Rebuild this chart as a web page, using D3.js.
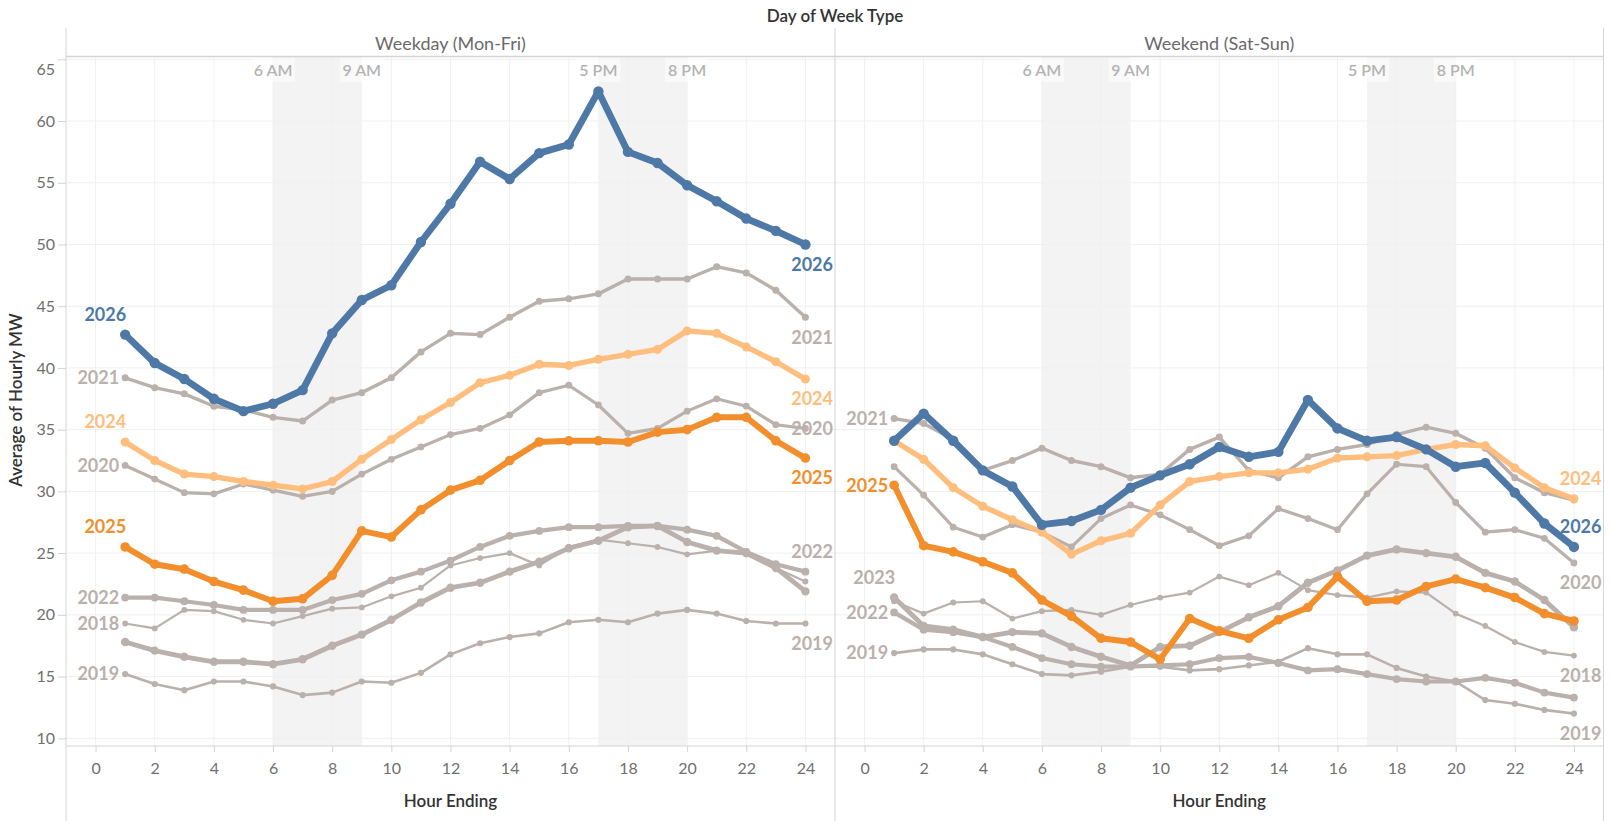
<!DOCTYPE html>
<html>
<head>
<meta charset="utf-8">
<script src="https://cdn.jsdelivr.net/npm/d3@7"></script>
<style>
  body { margin: 0; background: #fff; }
  svg { display: block; font-family: Lato, 'Open Sans', sans-serif; }
</style>
</head>
<body>
<svg id="chart" width="1613" height="821"></svg>
<script>
// Hour ending (x axis categories)
const hours = [1, 2, 3, 4, 5, 6, 7, 8, 9, 10, 11, 12, 13, 14, 15, 16, 17, 18, 19, 20, 21, 22, 23, 24]
const years = [2018, 2019, 2020, 2021, 2022, 2023, 2024, 2025, 2026]

// Weekday (Mon-Fri), average of hourly MW
const wd2018 = [19.3, 18.9, 20.4, 20.3, 19.6, 19.3, 19.9, 20.5, 20.6, 21.5, 22.2, 24.0, 24.6, 25.0, 24.0, 25.5, 26.1, 25.8, 25.5, 24.9, 25.2, 24.9, 23.8, 22.7]
const wd2019 = [15.2, 14.4, 13.9, 14.6, 14.6, 14.2, 13.5, 13.7, 14.6, 14.5, 15.3, 16.8, 17.7, 18.2, 18.5, 19.4, 19.6, 19.4, 20.1, 20.4, 20.1, 19.5, 19.3, 19.3]
const wd2020 = [32.1, 31.0, 29.9, 29.8, 30.6, 30.1, 29.6, 30.0, 31.4, 32.6, 33.6, 34.6, 35.1, 36.2, 38.0, 38.6, 37.0, 34.7, 35.1, 36.5, 37.5, 36.9, 35.4, 35.1]
const wd2021 = [39.2, 38.4, 37.9, 36.9, 36.6, 36.0, 35.7, 37.4, 38.0, 39.2, 41.3, 42.8, 42.7, 44.1, 45.4, 45.6, 46.0, 47.2, 47.2, 47.2, 48.2, 47.7, 46.3, 44.1]
const wd2022 = [21.4, 21.4, 21.1, 20.8, 20.4, 20.4, 20.4, 21.2, 21.7, 22.8, 23.5, 24.4, 25.5, 26.4, 26.8, 27.1, 27.1, 27.2, 27.2, 26.9, 26.4, 25.1, 24.1, 23.5]
const wd2023 = [17.8, 17.1, 16.6, 16.2, 16.2, 16.0, 16.4, 17.5, 18.4, 19.6, 21.0, 22.2, 22.6, 23.5, 24.3, 25.4, 26.0, 27.1, 27.2, 25.9, 25.2, 25.0, 23.8, 21.9]
const wd2024 = [34.0, 32.5, 31.4, 31.2, 30.8, 30.5, 30.2, 30.8, 32.6, 34.2, 35.8, 37.2, 38.8, 39.4, 40.3, 40.2, 40.7, 41.1, 41.5, 43.0, 42.8, 41.7, 40.5, 39.1]
const wd2025 = [25.5, 24.1, 23.7, 22.7, 22.0, 21.1, 21.3, 23.2, 26.8, 26.3, 28.5, 30.1, 30.9, 32.5, 34.0, 34.1, 34.1, 34.0, 34.8, 35.0, 36.0, 36.0, 34.1, 32.7]
const wd2026 = [42.7, 40.4, 39.1, 37.5, 36.5, 37.1, 38.2, 42.8, 45.5, 46.7, 50.2, 53.3, 56.7, 55.3, 57.4, 58.1, 62.4, 57.5, 56.6, 54.8, 53.5, 52.1, 51.1, 50.0]

// Weekend (Sat-Sun), average of hourly MW
const we2018 = [21.1, 20.1, 21.0, 21.1, 19.7, 20.3, 20.4, 20.0, 20.8, 21.4, 21.8, 23.1, 22.4, 23.4, 22.0, 21.6, 21.4, 21.9, 21.8, 20.1, 19.1, 17.8, 17.0, 16.7]
const we2019 = [16.9, 17.2, 17.2, 16.8, 16.0, 15.2, 15.1, 15.4, 15.8, 15.8, 15.5, 15.6, 15.9, 16.2, 17.3, 16.8, 16.8, 15.7, 15.0, 14.6, 13.1, 12.8, 12.3, 12.0]
const we2020 = [32.0, 29.7, 27.1, 26.3, 27.3, 26.7, 25.5, 27.8, 28.9, 28.1, 26.9, 25.6, 26.4, 28.6, 27.8, 26.9, 29.8, 32.2, 32.0, 29.1, 26.7, 26.9, 26.2, 24.2]
const we2021 = [35.9, 35.5, 34.2, 31.7, 32.5, 33.5, 32.5, 32.0, 31.1, 31.4, 33.4, 34.4, 31.7, 31.1, 32.8, 33.4, 33.8, 34.6, 35.2, 34.7, 33.5, 31.1, 29.9, 29.3]
const we2022 = [20.2, 18.8, 18.6, 18.2, 17.4, 16.5, 16.0, 15.8, 15.8, 15.9, 16.0, 16.5, 16.6, 16.1, 15.5, 15.6, 15.2, 14.8, 14.6, 14.6, 14.9, 14.5, 13.7, 13.3]
const we2023 = [21.4, 19.1, 18.8, 18.2, 18.6, 18.5, 17.4, 16.6, 15.9, 17.4, 17.5, 18.6, 19.8, 20.7, 22.6, 23.6, 24.8, 25.3, 25.0, 24.7, 23.4, 22.7, 21.2, 19.0]
const we2024 = [34.1, 32.6, 30.3, 28.8, 27.7, 26.7, 24.9, 26.0, 26.6, 28.9, 30.8, 31.2, 31.5, 31.5, 31.8, 32.7, 32.8, 32.9, 33.4, 33.8, 33.7, 31.9, 30.3, 29.4]
const we2025 = [30.5, 25.6, 25.1, 24.3, 23.4, 21.2, 19.9, 18.1, 17.8, 16.4, 19.7, 18.7, 18.1, 19.6, 20.6, 23.1, 21.1, 21.2, 22.3, 22.9, 22.2, 21.4, 20.1, 19.5]
const we2026 = [34.1, 36.3, 34.1, 31.7, 30.4, 27.3, 27.6, 28.5, 30.3, 31.3, 32.2, 33.6, 32.8, 33.2, 37.4, 35.1, 34.1, 34.4, 33.4, 32.0, 32.3, 29.9, 27.4, 25.5]

// Shaded periods and axis ticks
const periods = [[6, 9, '6 AM', '9 AM'], [17, 20, '5 PM', '8 PM']]
const xTickValues = [0, 2, 4, 6, 8, 10, 12, 14, 16, 18, 20, 22, 24]
const yTickValues = [10, 15, 20, 25, 30, 35, 40, 45, 50, 55, 60, 65]

// Styles
const colors = { 2024: '#ffbe7d', 2025: '#f28e2b', 2026: '#4e79a7' }
const gray = '#bab0ac'
const lineWidth = { 2018: 2.2, 2019: 2.6, 2020: 3.2, 2021: 3.4, 2022: 4.2, 2023: 4.8, 2024: 5.4, 2025: 6, 2026: 6.8 }

const weekdaySeries = { 2018: wd2018, 2019: wd2019, 2020: wd2020, 2021: wd2021, 2022: wd2022, 2023: wd2023, 2024: wd2024, 2025: wd2025, 2026: wd2026 }
const weekendSeries = { 2018: we2018, 2019: we2019, 2020: we2020, 2021: we2021, 2022: we2022, 2023: we2023, 2024: we2024, 2025: we2025, 2026: we2026 }

const plotTop = 57
const plotBottom = 746
const headerTop = 28
const gridColor = '#f0f0f0'
const borderColor = '#d4d4d4'

const panels = [
  {
    name: 'Weekday (Mon-Fri)',
    left: 66,
    right: 835,
    series: weekdaySeries,
    startLabels: { 2026: 'above', 2021: 'left', 2024: 'above', 2020: 'left', 2025: 'above', 2022: 'left', 2018: 'left', 2019: 'left' },
    endLabels: { 2026: 'below', 2021: 'below', 2024: 'below', 2020: 'middle', 2025: 'below', 2022: 'above', 2019: 'below' }
  },
  {
    name: 'Weekend (Sat-Sun)',
    left: 835,
    right: 1603.5,
    series: weekendSeries,
    startLabels: { 2021: 'left', 2025: 'left', 2023: 'above', 2022: 'left', 2019: 'left' },
    endLabels: { 2024: 'above', 2026: 'above', 2020: 'below', 2018: 'below', 2019: 'below' }
  }
]

const svg = d3.select('#chart')
const y = d3.scaleLinear().domain([10, 65]).range([738.3, 59.3])

/**
 * Returns the colour of a year's line.
 *
 * @param {number} year The year
 * @returns {string} The colour
 */
function colorOf (year) {
  return colors[year] || gray
}

/**
 * Draws one facet of the chart : bands, grid, axis, lines and labels.
 *
 * @param {object} panel The panel description
 */
function drawPanel (panel) {
  const x = d3.scaleLinear().domain([-1, 25]).range([panel.left, panel.right])
  const g = svg.append('g').attr('class', 'panel')

  // shaded hours
  periods.forEach(p => {
    g.append('rect')
      .attr('x', x(p[0]))
      .attr('y', plotTop)
      .attr('width', x(p[1]) - x(p[0]))
      .attr('height', plotBottom - plotTop)
      .attr('fill', '#f3f3f3')
  })

  // grid
  g.selectAll('.hgrid')
    .data(yTickValues)
    .join('line')
    .attr('class', 'hgrid')
    .attr('x1', panel.left)
    .attr('x2', panel.right)
    .attr('y1', d => y(d))
    .attr('y2', d => y(d))
    .attr('stroke', gridColor)
  g.selectAll('.vgrid')
    .data(xTickValues)
    .join('line')
    .attr('class', 'vgrid')
    .attr('x1', d => x(d))
    .attr('x2', d => x(d))
    .attr('y1', plotTop)
    .attr('y2', plotBottom)
    .attr('stroke', gridColor)

  // period labels
  periods.forEach(p => {
    [[p[0], p[2]], [p[1], p[3]]].forEach(([h, txt]) => {
      g.append('rect')
        .attr('x', x(h) - 22)
        .attr('y', plotTop + 1)
        .attr('width', 44)
        .attr('height', 24)
        .attr('fill', '#fff')
        .attr('opacity', 0.5)
      g.append('text')
        .attr('x', x(h))
        .attr('y', 70)
        .attr('dy', '0.35em')
        .attr('text-anchor', 'middle')
        .attr('font-size', 16)
        .attr('font-weight', 600)
        .attr('fill', '#b3b3b3')
        .text(txt)
    })
  })

  // x axis
  const xAxis = g.append('g')
    .attr('transform', 'translate(0,' + plotBottom + ')')
    .call(d3.axisBottom(x).tickValues(xTickValues).tickSize(6).tickPadding(11))
  xAxis.select('.domain').remove()
  xAxis.selectAll('line').attr('stroke', borderColor)
  xAxis.selectAll('text')
    .attr('font-family', 'Lato, sans-serif')
    .attr('font-size', 16)
    .attr('fill', '#6f6f6f')

  g.append('text')
    .attr('x', (panel.left + panel.right) / 2)
    .attr('y', 801)
    .attr('dy', '0.35em')
    .attr('text-anchor', 'middle')
    .attr('font-size', 17)
    .attr('font-weight', 600)
    .attr('fill', '#333')
    .text('Hour Ending')

  // header
  g.append('text')
    .attr('x', (panel.left + panel.right) / 2)
    .attr('y', 44)
    .attr('dy', '0.35em')
    .attr('text-anchor', 'middle')
    .attr('font-size', 18)
    .attr('fill', '#6a6a6a')
    .text(panel.name)

  // lines and markers
  const line = d3.line()
    .x((d, i) => x(hours[i]))
    .y(d => y(d))

  years.forEach(year => {
    const values = panel.series[year]
    const w = lineWidth[year]
    const yg = g.append('g').attr('class', 'year-' + year)
    yg.append('path')
      .datum(values)
      .attr('d', line)
      .attr('fill', 'none')
      .attr('stroke', colorOf(year))
      .attr('stroke-width', w)
      .attr('stroke-linejoin', 'round')
    yg.selectAll('circle')
      .data(values)
      .join('circle')
      .attr('cx', (d, i) => x(hours[i]))
      .attr('cy', d => y(d))
      .attr('r', 1.8 + w * 0.5)
      .attr('fill', colorOf(year))
  })

  // start labels
  Object.keys(panel.startLabels).forEach(key => {
    const year = +key
    const v = panel.series[year][0]
    const spot = panel.startLabels[key]
    g.append('text')
      .attr('x', spot === 'left' ? x(hours[0]) - 6 : x(hours[0]) + 1)
      .attr('y', spot === 'left' ? y(v) : y(v) - 20)
      .attr('dy', '0.35em')
      .attr('text-anchor', 'end')
      .attr('font-size', 18)
      .attr('font-weight', 700)
      .attr('fill', colorOf(year))
      .text(year)
  })

  // end labels
  Object.keys(panel.endLabels).forEach(key => {
    const year = +key
    const v = panel.series[year][hours.length - 1]
    const spot = panel.endLabels[key]
    const shift = spot === 'below' ? 20 : spot === 'above' ? -20 : 0
    g.append('text')
      .attr('x', panel.right - 2)
      .attr('y', y(v) + shift)
      .attr('dy', '0.35em')
      .attr('text-anchor', 'end')
      .attr('font-size', 18)
      .attr('font-weight', 700)
      .attr('fill', colorOf(year))
      .text(year)
  })
}

panels.forEach(drawPanel)

// y axis on the first panel
const yAxis = svg.append('g')
  .attr('transform', 'translate(' + panels[0].left + ',0)')
  .call(d3.axisLeft(y).tickValues(yTickValues).tickSize(8).tickPadding(3))
yAxis.select('.domain').remove()
yAxis.selectAll('line').attr('stroke', borderColor)
yAxis.selectAll('text')
  .attr('font-family', 'Lato, sans-serif')
  .attr('font-size', 16)
  .attr('fill', '#6f6f6f')
// the top label is pushed inside like the original
yAxis.selectAll('.tick').filter(d => d === 65).select('text').attr('y', 10)

// frame lines
const frame = svg.append('g').attr('stroke', borderColor).attr('fill', 'none')
frame.append('line').attr('x1', 66).attr('x2', 1603.5).attr('y1', 56.5).attr('y2', 56.5).attr('stroke-width', 1.5)
frame.append('line').attr('x1', 66).attr('x2', 1603.5).attr('y1', plotBottom).attr('y2', plotBottom)
;[66, 835, 1603.5].forEach(xv => {
  frame.append('line').attr('x1', xv).attr('x2', xv).attr('y1', headerTop).attr('y2', 821)
})

// titles
svg.append('text')
  .attr('x', 835)
  .attr('y', 16)
  .attr('dy', '0.35em')
  .attr('text-anchor', 'middle')
  .attr('font-size', 17)
  .attr('font-weight', 600)
  .attr('fill', '#333')
  .text('Day of Week Type')

svg.append('text')
  .attr('transform', 'translate(16,400) rotate(-90)')
  .attr('dy', '0.35em')
  .attr('text-anchor', 'middle')
  .attr('font-size', 17)
  .attr('font-weight', 600)
  .attr('fill', '#333')
  .text('Average of Hourly MW')
</script>
</body>
</html>
